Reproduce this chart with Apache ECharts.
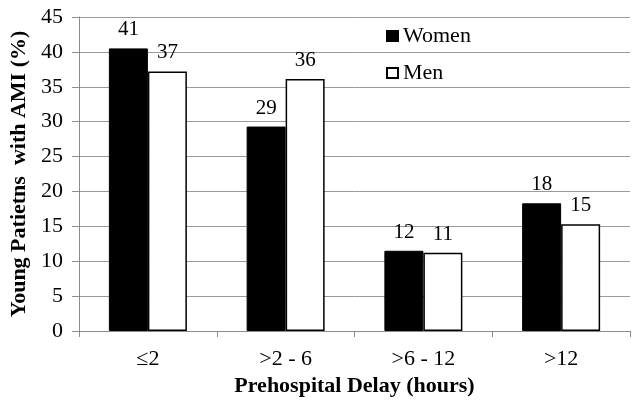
<!DOCTYPE html>
<html>
<head>
<meta charset="utf-8">
<script src="https://cdn.jsdelivr.net/npm/echarts@6/dist/echarts.min.js"></script>
<style>html,body{margin:0;padding:0;background:#fff;}#c{width:640px;height:407px;}</style>
</head>
<body>
<div id="c"></div>
<script>
var categories = ['\u22642', '>2 - 6', '>6 - 12', '>12'];
var women = [40.5, 29.3, 11.5, 18.3];
var men = [37.2, 36.1, 11.2, 15.3];
var yTicks = { min: 0, max: 45, interval: 5 };

var FONT = '"Liberation Serif", "Times New Roman", serif';
var chart = echarts.init(document.getElementById('c'));
var labelStyle = {
  show: true, position: 'top', distance: 8,
  fontFamily: FONT, fontSize: 21, color: '#000',
  formatter: function (p) { return Math.round(p.value); }
};
chart.setOption({
  animation: false,
  textStyle: { fontFamily: FONT },
  grid: { left: 79, right: 10, top: 17, bottom: 76 },
  legend: {
    orient: 'vertical', left: 381, top: 20, itemGap: 15,
    itemWidth: 11, itemHeight: 10, icon: 'rect',
    textStyle: { fontFamily: FONT, fontSize: 22, color: '#000' },
    data: ['Women', 'Men']
  },
  xAxis: {
    type: 'category', data: categories,
    name: 'Prehospital Delay (hours)', nameLocation: 'middle', nameGap: 40,
    nameTextStyle: { fontFamily: FONT, fontSize: 22, fontWeight: 'bold', color: '#000' },
    axisLine: { lineStyle: { color: '#8c8c8c', width: 1 } },
    axisTick: { show: true, length: 6, lineStyle: { color: '#8c8c8c' } },
    axisLabel: { fontFamily: FONT, fontSize: 22, color: '#000', margin: 17 }
  },
  yAxis: {
    type: 'value', min: yTicks.min, max: yTicks.max, interval: yTicks.interval,
    name: 'Young Patietns  with AMI (%)', nameLocation: 'middle', nameGap: 47,
    nameTextStyle: { fontFamily: FONT, fontSize: 22, fontWeight: 'bold', color: '#000' },
    axisLine: { show: true, lineStyle: { color: '#8c8c8c', width: 1 } },
    axisTick: { show: true, length: 7, lineStyle: { color: '#8c8c8c' } },
    axisLabel: { fontFamily: FONT, fontSize: 22, color: '#000', margin: 16 },
    splitLine: { lineStyle: { color: '#9a9a9a', width: 1 } }
  },
  series: [
    { name: 'Women', type: 'bar', data: women, barWidth: 39, barGap: '0%',
      itemStyle: { color: '#000', borderColor: '#000', borderWidth: 1 },
      label: labelStyle },
    { name: 'Men', type: 'bar', data: men, barWidth: 39, barGap: '0%',
      itemStyle: { color: '#fff', borderColor: '#000', borderWidth: 1.5 },
      label: labelStyle }
  ]
});
</script>
</body>
</html>
